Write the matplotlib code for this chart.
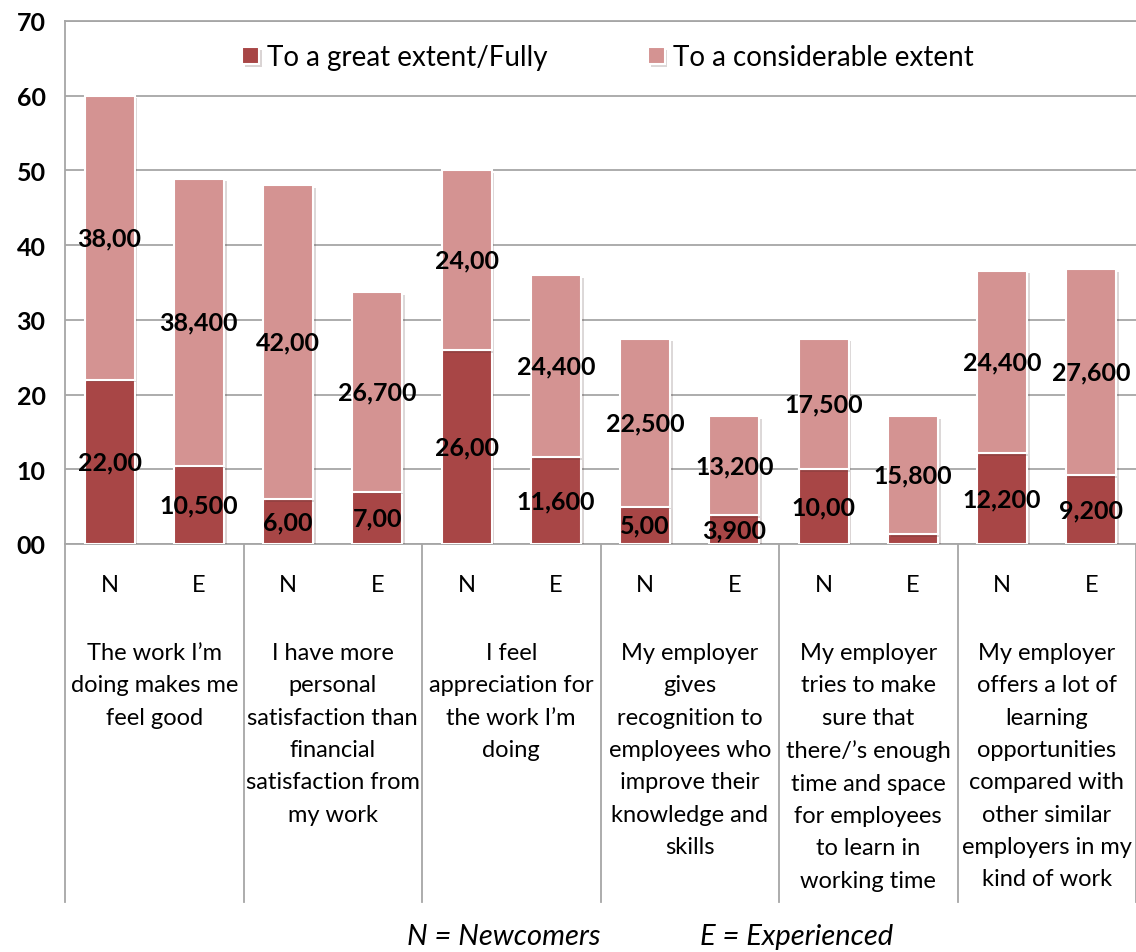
import matplotlib.pyplot as plt
import matplotlib.patheffects as pe
import matplotlib.transforms as mtransforms
import numpy as np

# data
groups = [
    "The work I\u2019m\ndoing makes me\nfeel good",
    "I have more\npersonal\nsatisfaction than\nfinancial\nsatisfaction from\nmy work",
    "I feel\nappreciation for\nthe work I\u2019m\ndoing",
    "My employer\ngives\nrecognition to\nemployees who\nimprove their\nknowledge and\nskills",
    "My employer\ntries to make\nsure that\nthere/\u2019s enough\ntime and space\nfor employees\nto learn in\nworking time",
    "My employer\noffers a lot of\nlearning\nopportunities\ncompared with\nother similar\nemployers in my\nkind of work",
]
sub_labels = ["N", "E"]
great = [22.0, 10.5, 6.0, 7.0, 26.0, 11.6, 5.0, 3.9, 10.0, 1.3, 12.2, 9.2]
considerable = [38.0, 38.4, 42.0, 26.7, 24.0, 24.4, 22.5, 13.2, 17.5, 15.8, 24.4, 27.6]
great_text = ["22,00", "10,500", "6,00", "7,00", "26,00", "11,600",
              "5,00", "3,900", "10,00", "", "12,200", "9,200"]
considerable_text = ["38,00", "38,400", "42,00", "26,700", "24,00", "24,400",
                     "22,500", "13,200", "17,500", "15,800", "24,400", "27,600"]
yticks = [0, 10, 20, 30, 40, 50, 60, 70]
ytick_labels = ["00", "10", "20", "30", "40", "50", "60", "70"]

DARK = "#a84646"
LIGHT = "#d49392"
GRID = "#a6a6a6"
FONT = "Lato"

W_PX, H_PX = 1136, 953
fig = plt.figure(figsize=(W_PX / 100, H_PX / 100), dpi=100)
ax_left, ax_top, ax_right, ax_bottom = 65, 22, 1136, 545
ax = fig.add_axes([
    ax_left / W_PX,
    1 - ax_bottom / H_PX,
    (ax_right - ax_left) / W_PX,
    (ax_bottom - ax_top) / H_PX,
])

n = len(great)
x = np.arange(n) + 0.5
shadow = [pe.SimplePatchShadow(offset=(2, -2), alpha=0.18), pe.Normal()]
b1 = ax.bar(x, great, width=0.56, color=DARK, edgecolor="white",
            linewidth=1.5, zorder=3, label="To a great extent/Fully")
b2 = ax.bar(x, considerable, width=0.56, bottom=great, color=LIGHT,
            edgecolor="white", linewidth=1.5, zorder=3,
            label="To a considerable extent")
for bar in list(b1) + list(b2):
    bar.set_path_effects(shadow)

# value labels
for i in range(n):
    if great_text[i]:
        ax.text(x[i], great[i] / 2, great_text[i], ha="center", va="center",
                fontsize=18, fontweight="bold", family=FONT, zorder=5)
    ax.text(x[i], great[i] + considerable[i] / 2, considerable_text[i],
            ha="center", va="center", fontsize=18, fontweight="bold",
            family=FONT, zorder=5)

ax.set_xlim(0, n)
ax.set_ylim(0, 70)
ax.set_yticks(yticks)
ax.set_yticklabels(ytick_labels, fontsize=18, fontweight="bold", family=FONT)
ax.set_xticks([])
ax.tick_params(axis="y", length=0, pad=14)
ax.yaxis.grid(True, color=GRID, linewidth=1.3)
ax.set_axisbelow(True)
for side in ["left", "top", "bottom"]:
    ax.spines[side].set_color(GRID)
    ax.spines[side].set_linewidth(1.3)
ax.spines["right"].set_visible(False)

leg = ax.legend(loc="upper center", bbox_to_anchor=(0.507, 1.003), ncols=2,
                frameon=False, prop={"family": FONT, "size": 20},
                handlelength=0.6, handleheight=0.6, handletextpad=0.3,
                columnspacing=3.6)

# category table under the plot
trans = mtransforms.blended_transform_factory(ax.transData, ax.transAxes)
table_bottom = -(903 - ax_bottom) / (ax_bottom - ax_top)
for gx in range(0, n + 1, 2):
    ax.plot([gx, gx], [0, table_bottom], color=GRID, linewidth=1.3,
            transform=trans, clip_on=False)

sub_y = -(585 - ax_bottom) / (ax_bottom - ax_top)
for i in range(n):
    ax.text(x[i], sub_y, sub_labels[i % 2], transform=trans, ha="center",
            va="center", fontsize=17, family=FONT)

cat_y = -(643 - ax_bottom) / (ax_bottom - ax_top)
for g, label in enumerate(groups):
    ax.text(2 * g + 1, cat_y, label, transform=trans, ha="center", va="top",
            fontsize=17, family=FONT, linespacing=1.665)

fig.text(504 / W_PX, 1 - 937 / H_PX, "N = Newcomers", ha="center",
         va="center", fontsize=21, style="italic", family=FONT)
fig.text(797 / W_PX, 1 - 937 / H_PX, "E = Experienced", ha="center",
         va="center", fontsize=21, style="italic", family=FONT)

fig.savefig("out.png", dpi=100, facecolor="white")
